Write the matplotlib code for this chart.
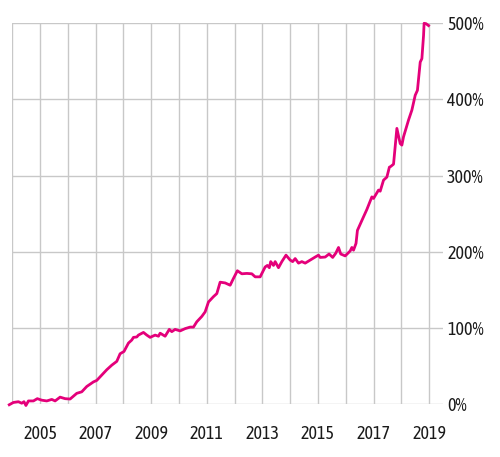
import matplotlib.pyplot as plt
from matplotlib import font_manager

years = [2003.89, 2004.04, 2004.22, 2004.34, 2004.42, 2004.49, 2004.58, 2004.76, 2004.90,
         2005.06, 2005.24, 2005.42, 2005.54, 2005.72, 2005.90, 2006.08, 2006.32, 2006.50,
         2006.68, 2006.92, 2007.04, 2007.22, 2007.40, 2007.58, 2007.76, 2007.88, 2008.02,
         2008.18, 2008.30, 2008.36, 2008.48, 2008.54, 2008.72, 2008.84, 2008.96, 2009.14,
         2009.26, 2009.32, 2009.50, 2009.65, 2009.74, 2009.86, 2010.04, 2010.22, 2010.40,
         2010.52, 2010.64, 2010.82, 2010.94, 2011.06, 2011.24, 2011.36, 2011.48, 2011.66,
         2011.84, 2011.96, 2012.10, 2012.26, 2012.44, 2012.62, 2012.74, 2012.92, 2013.10,
         2013.18, 2013.25, 2013.30, 2013.40, 2013.46, 2013.58, 2013.70, 2013.85, 2014.00,
         2014.09, 2014.18, 2014.30, 2014.42, 2014.54, 2014.72, 2014.90, 2015.02, 2015.08,
         2015.26, 2015.40, 2015.53, 2015.64, 2015.74, 2015.82, 2015.98, 2016.16, 2016.22,
         2016.28, 2016.37, 2016.42, 2016.58, 2016.76, 2016.94, 2017.00, 2017.18, 2017.24,
         2017.36, 2017.48, 2017.57, 2017.62, 2017.72, 2017.84, 2017.96, 2018.02, 2018.08,
         2018.26, 2018.38, 2018.50, 2018.58, 2018.68, 2018.74, 2018.80, 2018.82, 2018.89,
         2018.98]
change_pct = [-1, 2, 3, 1, 3, -2, 4, 4, 7,
              5, 4, 6, 4, 9, 7, 6.5, 14, 16,
              23, 29, 31, 38, 45, 51, 56, 66, 69,
              80, 84, 87.5, 88, 90.5, 94, 90.5, 87.5, 90.5,
              89, 93, 89, 98, 95, 98, 96, 99, 101,
              101, 108, 115, 121, 134, 141, 145, 160, 159,
              156, 165, 175, 171, 171.5, 171, 167, 167, 180,
              182, 179, 187, 182, 187, 179, 187, 195.5, 189,
              187, 191, 185, 187, 185, 189, 193, 195.5, 192.5,
              193, 197, 192.5, 198, 205.6, 197, 194.5, 201, 205.6,
              202, 211, 228, 241, 255.5, 272, 270, 281, 279.5,
              294, 298, 311, 312, 315, 362, 342, 340, 351,
              373, 386, 405.5, 412, 449, 453.6, 484, 500, 499.5,
              497]

year_labels = [2005, 2007, 2009, 2011, 2013, 2015, 2017, 2019]
pct_ticks = [0, 100, 200, 300, 400, 500]

# condensed face like the original, if one is around
installed = {f.name for f in font_manager.fontManager.ttflist}
font = 'DejaVu Sans'
for name in ['Asap Condensed', 'Archivo Narrow', 'Liberation Sans Narrow']:
    if name in installed:
        font = name
        break
plt.rcParams['font.family'] = [font, 'DejaVu Sans']

fig = plt.figure(figsize=(5, 4.57), dpi=100)
ax = fig.add_axes([0.0246, 0.116, 0.8614, 0.833])

ax.plot(years, change_pct, color='#e4007a', lw=2, clip_on=False, zorder=3)

ax.set_xlim(2004, 2019.5)
ax.set_ylim(0, 500)

ax.set_xticks(year_labels)
ax.set_xticklabels([str(y) for y in year_labels])
ax.set_xticks(range(2004, 2020, 2), minor=True)
ax.set_yticks(pct_ticks)
ax.set_yticklabels([f'{p}%' for p in pct_ticks])

ax.yaxis.tick_right()
ax.tick_params(axis='x', which='both', length=0, pad=15, labelsize=13, colors='#1a1a1a')
ax.tick_params(axis='y', length=0, pad=3, labelsize=13, colors='#1a1a1a')

ax.grid(True, which='both', axis='x', color='#c8c8c8', lw=1)
ax.grid(True, axis='y', color='#c8c8c8', lw=1)
ax.set_axisbelow(True)
for s in ax.spines.values():
    s.set_visible(False)

fig.savefig('out.png', dpi=100)
